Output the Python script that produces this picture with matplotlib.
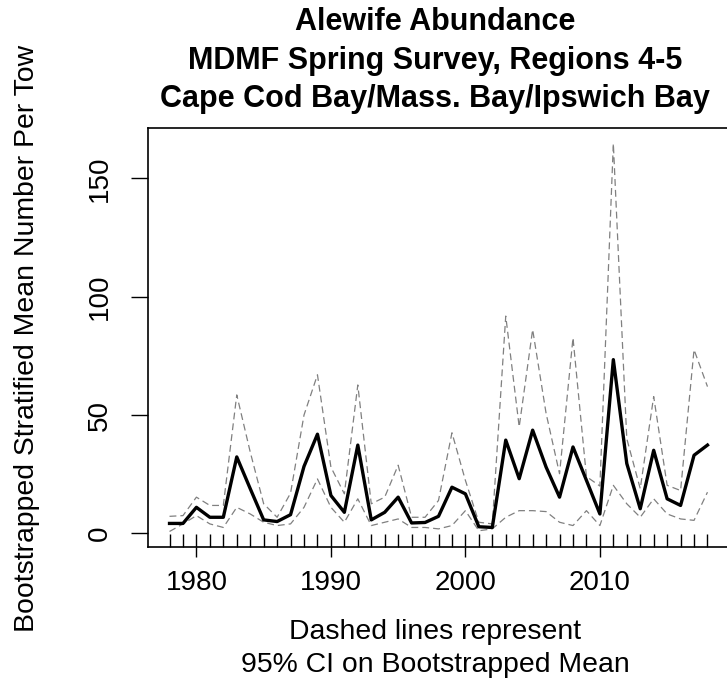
import numpy as np
import matplotlib
matplotlib.use("Agg")
import matplotlib.pyplot as plt
from matplotlib.ticker import FixedLocator

plt.rcParams['font.family'] = ['Liberation Sans', 'DejaVu Sans']

years = list(range(1978, 2019))
mean_tow = [4.2, 4.2, 11.0, 6.8, 6.8, 32.3, 18.9, 5.7, 5.0, 7.9,
            28.3, 41.9, 16.0, 8.9, 37.3, 5.7, 8.9, 15.3, 4.4, 4.6,
            7.2, 19.5, 16.7, 2.8, 2.5, 39.4, 23.1, 43.6, 28.0, 15.3,
            36.5, 22.4, 8.2, 73.4, 29.5, 10.4, 35.1, 14.6, 11.8, 33.0,
            37.3]
upper_ci = [7.2, 7.5, 15.3, 11.8, 11.8, 58.5, 34.4, 12.5, 6.8, 17.0,
            50.0, 67.0, 28.0, 16.7, 62.7, 12.5, 15.3, 28.8, 6.8, 6.8,
            13.9, 42.5, 22.4, 4.7, 4.0, 91.8, 45.0, 86.1, 50.7, 25.2,
            82.6, 24.0, 20.0, 164.7, 40.0, 18.9, 57.8, 20.3, 18.1, 77.6,
            62.0]
lower_ci = [0.8, 4.0, 7.5, 4.0, 2.5, 11.0, 8.2, 4.7, 3.3, 4.0,
            11.0, 23.0, 11.0, 4.7, 14.6, 3.3, 4.7, 6.1, 2.5, 2.5,
            1.9, 3.3, 9.6, 1.1, 1.9, 6.8, 9.6, 9.6, 9.2, 4.7,
            3.3, 9.6, 3.3, 20.3, 12.5, 6.8, 14.6, 8.2, 6.1, 5.5,
            17.4]
x_major = [1980, 1990, 2000, 2010]
y_major = [0, 50, 100, 150]

W, H = 727, 688
fig = plt.figure(figsize=(W / 100, H / 100), dpi=100)
ax = fig.add_axes([148 / W, 1 - 547 / H, (729 - 148) / W, (547 - 128) / H])

dash = (0, (5.5, 3.2))
ax.plot(years, upper_ci, color="#808080", lw=0.9, linestyle=dash)
ax.plot(years, lower_ci, color="#808080", lw=0.9, linestyle=dash)
ax.plot(years, mean_tow, color="black", lw=2.4)

ax.margins(x=0.04, y=0.04)

ax.xaxis.set_major_locator(FixedLocator(x_major))
ax.xaxis.set_minor_locator(FixedLocator(years))
ax.xaxis.remove_overlapping_locs = False
ax.set_yticks(y_major)
ax.tick_params(axis="both", which="major", direction="out", width=1,
               labelsize=20)
ax.tick_params(axis="x", which="major", length=7.2, pad=9.3)
ax.tick_params(axis="y", which="major", length=12.2, pad=13)
ax.tick_params(axis="x", which="minor", direction="in", length=9.5, width=1)
for lab in ax.get_yticklabels():
    lab.set_rotation(90)
    lab.set_va("center")

for sp in ax.spines.values():
    sp.set_linewidth(1.2)

title_lines = ["Alewife Abundance",
               "MDMF Spring Survey, Regions 4-5",
               "Cape Cod Bay/Mass. Bay/Ipswich Bay"]
for i, line in enumerate(title_lines):
    fig.text(435 / W, 1 - (22 + 38.5 * i) / H, line, ha="center", va="center",
             fontsize=22, fontweight="bold")

fig.text(435 / W, 1 - 632 / H, "Dashed lines represent", ha="center",
         va="center", fontsize=20.4)
fig.text(435 / W, 1 - 665 / H, "95% CI on Bootstrapped Mean", ha="center",
         va="center", fontsize=20.4)
fig.text(27 / W, 1 - 338 / H, "Bootstrapped Stratified Mean Number Per Tow",
         ha="center", va="center", rotation=90, fontsize=20.4)

fig.savefig("out.png", dpi=100)
